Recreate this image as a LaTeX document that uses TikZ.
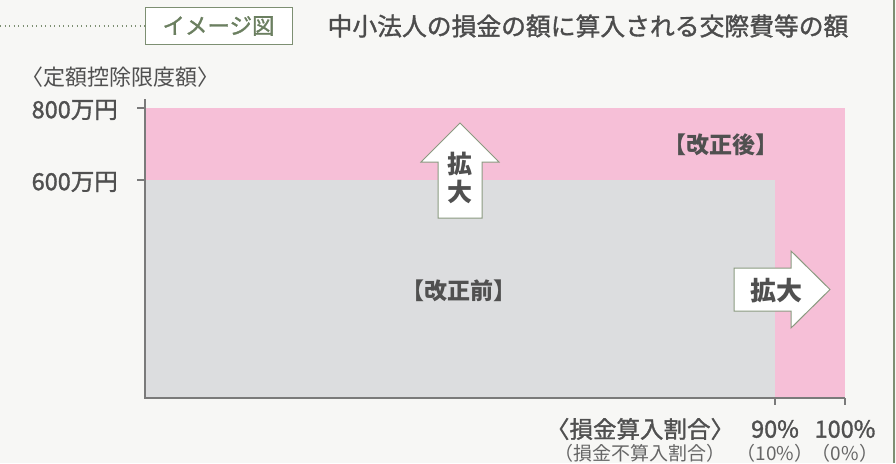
\documentclass[tikz,border=0pt]{standalone}
\usepackage{fontspec}
\setmainfont{Noto Sans CJK JP}
\newfontfamily\medfont[FakeBold=1.3]{Noto Sans CJK JP}
\definecolor{bgc}{HTML}{F7F7F5}
\definecolor{framec}{HTML}{7D8F72}
\definecolor{tagtext}{HTML}{6B7F60}
\definecolor{pinkc}{HTML}{F6BFD7}
\definecolor{grayc}{HTML}{DCDDDF}
\definecolor{axisc}{HTML}{7A7A7A}
\definecolor{dtext}{HTML}{505050}
\definecolor{ltext}{HTML}{666666}
\definecolor{arrowc}{HTML}{8A9A80}
\tikzset{
  fs/.style={font=\fontsize{#1}{#1}\selectfont},
  fsm/.style={font=\fontsize{#1}{#1}\selectfont\medfont},
  fsb/.style={font=\fontsize{#1}{#1}\selectfont\bfseries},
  tagbox/.style={draw=framec, line width=1pt, fill=white, minimum width=147pt, minimum height=37pt, inner sep=0pt, text=tagtext, fsm=22.5},
  axisline/.style={draw=axisc, line width=1.5pt},
  bigarrow/.style={draw=arrowc, line width=1pt, fill=white},
  lbl/.style={text=dtext, inner sep=0pt},
}
\begin{document}
\begin{tikzpicture}[x=1pt,y=-1pt]
\useasboundingbox (0,0) rectangle (896,463);
\fill[bgc] (0,0) rectangle (896,463);
\draw[framec, line width=1.5pt] (894,0) -- (894,463);
% header
\node[tagbox] (tag) at (218.5,26) {イメージ図};
\coordinate (dl) at (0,26);
\draw[framec, line width=1.3pt, dash pattern=on 1.3pt off 3.2pt] (dl) -- (tag.west);
\node[lbl, fsm=24.8, text=dtext!95!black] (title) at (588,26) {中小法人の損金の額に算入される交際費等の額};
% areas
\fill[pinkc] (145,107.5) rectangle (845,398);
\fill[grayc] (145,180) rectangle (775,398);
% axes
\coordinate (ytop) at (145,99);
\coordinate (orig) at (145,398);
\coordinate (xend) at (845,398);
\draw[axisline] (ytop) -- (orig) -- (xend);
\coordinate (t8a) at (137,108); \coordinate (t8b) at (145,108);
\coordinate (t6a) at (137,180); \coordinate (t6b) at (145,180);
\coordinate (t90a) at (775,398); \coordinate (t90b) at (775,405);
\coordinate (t100a) at (845,398); \coordinate (t100b) at (845,405);
\draw[axisline] (t8a) -- (t8b) (t6a) -- (t6b) (t90a) -- (t90b) (t100a) -- (t100b);
% y labels
\node[lbl, fs=22] (ylab) at (120,77) {〈定額控除限度額〉};
\node[lbl, fsm=23.5, anchor=east] (v800) at (118,110) {800万円};
\node[lbl, fsm=23.5, anchor=east] (v600) at (118,182) {600万円};
% x labels
\node[lbl, fsm=23.5] (xlab) at (640,429) {〈損金算入割合〉};
\node[lbl, fsm=23.5] (p90) at (775,429) {90\%};
\node[lbl, fsm=23.5] (p100) at (845,429) {100\%};
\node[lbl, fs=19, text=ltext] (xlab2) at (640,453) {（損金不算入割合）};
\node[lbl, fs=19, text=ltext] (p10) at (775,453) {（10\%）};
\node[lbl, fs=19, text=ltext] (p0) at (845,453) {（0\%）};
% region labels
\node[lbl, fsb=23] (before) at (459,291) {【改正前】};
\node[lbl, fsb=23] (after) at (721,145) {【改正後】};
% up arrow
\draw[bigarrow] (438,218) -- (438,162) -- (421,162) -- (460,123) -- (499,162) -- (482,162) -- (482,218) -- cycle;
\node[lbl, fsb=25] (up1) at (460,164) {拡};
\node[lbl, fsb=25] (up2) at (460,192) {大};
% right arrow
\draw[bigarrow] (734,268) -- (791,268) -- (791,251) -- (830,289.5) -- (791,328) -- (791,311) -- (734,311) -- cycle;
\node[lbl, fsb=26] (rt) at (776,291) {拡大};
\end{tikzpicture}
\end{document}
